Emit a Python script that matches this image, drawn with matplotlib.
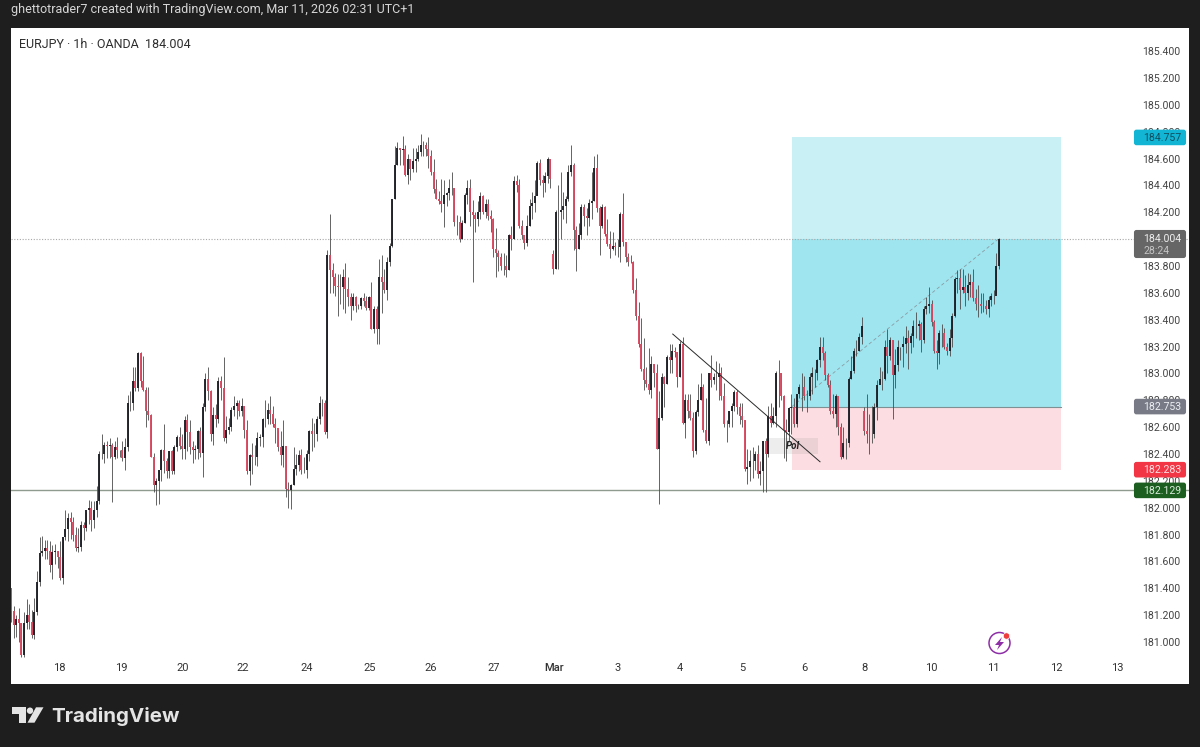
#EURJPY 1h chart with long position tool
import matplotlib
matplotlib.use('Agg')
import matplotlib.pyplot as plt
from matplotlib.patches import Rectangle, FancyBboxPatch, Polygon, Circle
import numpy as np

closes = [
    181.23,181.13,181.17,181.14,180.90,181.14,181.20,181.15,181.05,181.22,
    181.45,181.66,181.68,181.70,181.68,181.57,181.67,181.68,181.63,181.48,
    181.78,181.84,181.92,181.89,181.80,181.70,181.71,181.87,181.85,181.98,
    182.00,181.91,181.98,182.05,182.40,182.40,182.47,182.46,182.47,182.38,
    182.45,182.43,182.43,182.37,182.45,182.78,182.78,182.94,182.89,183.15,
    182.94,182.88,182.72,182.69,182.38,182.17,182.20,182.28,182.43,182.35,
    182.27,182.42,182.27,182.45,182.53,182.46,182.44,182.65,182.56,182.45,
    182.43,182.44,182.57,
    182.41,182.75,182.96,182.87,182.55,182.69,182.66,182.94,182.89,182.52,
    182.58,182.60,182.73,182.76,182.78,182.72,182.76,182.58,182.27,182.39,
    182.38,182.38,182.52,182.53,182.66,182.66,182.73,182.70,182.62,182.59,
    182.45,182.39,182.46,182.14,182.13,182.17,182.29,182.32,182.39,182.28,
    182.28,182.40,182.57,182.55,182.55,182.66,182.78,182.78,182.56,183.88,
    183.77,183.72,183.65,183.64,183.64,183.72,183.63,183.57,183.50,183.57,
    183.50,183.50,183.56,183.54,183.49,183.57,183.33,183.48,183.33,183.72,
    183.68,183.62,183.83,183.95,184.30,
    184.55,184.68,184.66,184.67,184.48,184.60,184.52,184.58,184.60,184.65,
    184.70,184.70,184.67,184.62,184.50,184.37,184.30,184.28,184.26,184.33,
    184.34,184.38,184.38,184.13,184.13,184.00,184.12,184.33,184.38,184.20,
    184.18,184.15,184.20,184.32,184.20,184.26,184.17,184.15,183.93,183.90,
    183.87,183.80,183.80,183.77,184.03,184.00,184.43,184.40,184.10,184.03,
    183.97,184.10,184.25,184.27,184.32,184.57,184.44,184.42,184.47,184.60,
    184.45,183.78,184.20,184.20,184.22,184.25,184.30,184.50,184.55,184.07,
    183.93,184.03,184.24,184.17,184.16,184.27,184.28,184.53,184.23,184.10,
    184.24,184.04,183.96,183.93,183.95,183.94,183.94,184.19,183.98,183.87,
    183.83,
    183.83,183.62,183.43,183.22,183.03,182.95,182.92,182.88,183.07,183.00,
    182.44,182.67,182.97,182.92,183.12,183.10,183.17,183.16,182.97,183.22,
    182.63,182.80,182.72,182.67,182.42,182.71,182.80,182.90,182.58,182.50,
    183.00,182.95,182.97,182.97,183.00,182.83,182.62,182.62,182.72,182.76,
    182.86,182.75,182.68,182.65,182.29,182.30,182.35,182.35,182.40,182.25,
    182.27,182.50,182.40,182.68,182.63,182.68,183.00,183.00,182.83,182.58,
    182.56,182.74,182.75,182.62,182.85,182.90,182.90,182.83,182.83,182.97,
    183.00,183.00,183.10,183.20,183.15,182.99,182.91,182.72,182.70,182.83,
    182.60,
    182.38,182.48,182.48,182.96,183.02,183.17,183.17,183.27,183.35,
    182.57,182.55,182.55,182.55,182.75,182.91,182.96,182.96,183.20,183.13,183.25,
    182.99,183.06,183.20,183.20,183.22,183.26,183.23,183.28,183.35,183.35,
    183.37,183.25,183.48,183.50,183.52,183.38,183.17,183.15,183.30,183.30,
    183.20,183.17,183.26,183.43,183.70,183.71,183.62,183.64,183.60,183.66,
    183.68,183.56,183.52,183.52,183.50,183.50,183.48,183.55,183.58,183.58,
    183.80,184.004,
]
highs = [
    181.40,181.27,181.20,181.25,181.14,181.22,181.32,181.28,181.24,181.33,
    181.53,181.78,181.79,181.76,181.76,181.75,181.72,181.73,181.68,181.75,
    181.78,181.98,181.96,181.97,181.93,181.86,181.85,181.90,181.89,181.97,
    182.06,182.05,182.05,182.16,182.42,182.55,182.49,182.50,182.52,182.48,
    182.50,182.53,182.43,182.50,182.52,182.84,182.87,183.05,183.05,183.16,
    183.16,183.13,182.90,182.90,182.70,182.41,182.22,182.28,182.44,182.62,
    182.37,182.42,182.43,182.47,182.54,182.60,182.55,182.68,182.70,182.65,
    182.50,182.47,182.58,
    182.60,182.78,183.00,183.05,182.88,182.75,182.77,182.97,182.98,183.12,
    182.68,182.67,182.75,182.83,182.80,182.80,182.82,182.76,182.65,182.40,
    182.48,182.47,182.56,182.55,182.67,182.80,182.78,182.83,182.76,182.67,
    182.58,182.57,182.65,182.46,182.19,182.18,182.45,182.40,182.43,182.44,
    182.38,182.43,182.58,182.67,182.63,182.68,182.83,182.81,182.80,183.92,
    184.19,183.82,183.75,183.74,183.74,183.78,183.82,183.72,183.60,183.60,
    183.58,183.52,183.57,183.60,183.58,183.58,183.68,183.50,183.50,183.85,
    183.88,183.78,183.87,183.97,184.30,
    184.69,184.72,184.68,184.77,184.70,184.63,184.60,184.68,184.68,184.70,
    184.78,184.73,184.72,184.76,184.66,184.60,184.45,184.36,184.45,184.44,
    184.35,184.45,184.50,184.38,184.18,184.17,184.14,184.34,184.44,184.45,
    184.29,184.20,184.28,184.35,184.33,184.30,184.30,184.22,184.16,184.08,
    183.92,183.90,183.90,183.88,184.04,184.10,184.47,184.48,184.45,184.14,
    184.00,184.18,184.30,184.35,184.44,184.58,184.60,184.48,184.50,184.61,
    184.60,183.92,184.22,184.40,184.50,184.35,184.32,184.55,184.70,184.57,
    184.10,184.12,184.26,184.26,184.23,184.30,184.50,184.62,184.63,184.25,
    184.26,184.25,184.15,184.06,184.05,183.98,184.00,184.20,184.34,183.98,
    183.90,
    183.88,183.84,183.71,183.53,183.41,183.26,183.05,183.19,183.13,183.07,
    183.07,182.87,183.00,182.98,183.14,183.22,183.22,183.20,183.15,183.24,
    183.27,182.85,182.85,182.85,182.71,182.73,182.92,183.00,182.92,182.82,
    183.00,183.14,183.00,183.09,183.08,183.05,182.93,182.65,182.72,182.78,
    182.88,182.88,182.78,182.78,182.65,182.44,182.43,182.45,182.42,182.47,
    182.35,182.50,182.52,182.76,182.78,182.75,183.02,183.10,183.00,182.84,
    182.66,182.75,182.85,182.82,182.85,182.92,183.00,182.98,182.88,183.00,
    183.05,183.03,183.11,183.27,183.27,183.17,183.00,182.95,182.85,182.85,
    182.75,
    182.63,182.60,182.52,182.97,183.13,183.19,183.25,183.30,183.42,
    182.75,182.85,182.70,182.76,182.78,182.95,183.05,183.02,183.25,183.33,183.27,
    183.25,183.18,183.25,183.20,183.28,183.35,183.32,183.30,183.40,183.46,
    183.40,183.38,183.50,183.57,183.64,183.55,183.40,183.25,183.32,183.37,
    183.34,183.23,183.33,183.45,183.72,183.77,183.78,183.78,183.73,183.75,
    183.74,183.78,183.63,183.66,183.60,183.60,183.55,183.58,183.60,183.62,
    183.90,184.01,
]
lows = [
    181.15,181.03,181.04,181.00,180.89,180.89,181.10,181.10,181.03,181.02,
    181.20,181.42,181.64,181.62,181.62,181.52,181.47,181.58,181.55,181.46,
    181.43,181.76,181.75,181.77,181.75,181.68,181.67,181.68,181.76,181.83,
    181.88,181.83,181.85,181.93,182.03,182.36,182.33,182.37,182.37,182.04,
    182.36,182.37,182.38,182.35,182.28,182.42,182.72,182.73,182.87,182.87,
    182.90,182.87,182.60,182.65,182.38,182.12,182.02,182.03,182.20,182.26,
    182.22,182.22,182.25,182.25,182.42,182.44,182.36,182.36,182.42,182.40,
    182.33,182.36,182.36,
    182.38,182.23,182.72,182.80,182.50,182.47,182.60,182.63,182.80,182.50,
    182.48,182.55,182.57,182.68,182.66,182.68,182.68,182.52,182.25,182.17,
    182.25,182.32,182.31,182.46,182.45,182.60,182.62,182.62,182.60,182.48,
    182.42,182.32,182.30,182.08,182.00,181.99,182.17,182.24,182.27,182.25,
    182.26,182.22,182.35,182.42,182.45,182.50,182.62,182.68,182.55,182.52,
    183.60,183.60,183.58,183.43,183.52,183.48,183.45,183.50,183.40,183.47,
    183.46,183.48,183.48,183.50,183.47,183.47,183.33,183.30,183.22,183.22,
    183.45,183.60,183.55,183.80,183.94,
    184.30,184.55,184.55,184.55,184.47,184.41,184.44,184.50,184.50,184.58,
    184.62,184.62,184.62,184.53,184.48,184.34,184.30,184.26,184.20,184.09,
    184.25,184.29,184.33,184.10,184.03,183.98,184.00,184.12,184.26,184.10,
    183.68,184.05,184.10,184.15,184.19,184.16,184.14,184.05,183.87,183.72,
    183.76,183.77,183.73,183.72,183.77,183.92,184.00,184.35,184.08,184.00,
    183.93,183.95,184.10,184.15,184.20,184.33,184.40,184.31,184.35,184.42,
    184.38,183.74,183.78,183.78,184.00,184.15,184.12,184.28,184.47,183.92,
    183.76,183.93,184.00,184.10,184.03,184.10,184.15,184.28,184.20,183.88,
    184.08,184.02,183.95,183.86,183.92,183.88,183.87,183.83,183.95,183.83,
    183.80,
    183.82,183.60,183.40,183.20,183.02,182.88,182.90,182.85,182.82,182.90,
    182.44,182.03,182.65,182.75,182.92,183.00,183.00,183.12,182.90,182.97,
    182.62,182.52,182.67,182.65,182.38,182.40,182.68,182.80,182.56,182.48,
    182.47,182.90,182.92,182.88,182.80,182.80,182.60,182.49,182.60,182.60,
    182.72,182.70,182.62,182.60,182.27,182.18,182.20,182.22,182.28,182.22,
    182.17,182.12,182.12,182.38,182.60,182.62,182.60,182.75,182.80,182.37,
    182.35,182.50,182.55,182.60,182.60,182.82,182.72,182.80,182.71,182.80,
    182.85,182.90,182.95,183.05,183.10,182.95,182.90,182.70,182.67,182.60,
    182.54,
    182.36,182.37,182.36,182.45,182.96,183.00,183.13,183.17,183.22,
    182.54,182.48,182.40,182.48,182.52,182.65,182.92,182.88,182.95,183.00,183.10,
    182.66,182.89,183.02,183.10,183.05,183.15,183.03,183.15,183.20,183.26,
    183.25,183.16,183.23,183.44,183.45,183.35,183.15,183.03,183.07,183.20,
    183.18,183.14,183.13,183.20,183.42,183.60,183.48,183.60,183.50,183.55,
    183.57,183.54,183.47,183.42,183.45,183.46,183.44,183.42,183.50,183.52,
    183.60,183.78,
]
first_open = 181.40
gap_opens = {209: 183.89, 329: 182.72} #weekend gaps, open is not last close

date_ticks = [18.5, 42.4, 66.3, 89.5, 114, 138.5, 162, 186, 209.4, 234, 258, 282, 306, 329, 355, 379, 403, 426.5]
date_labels = ['18','19','20','22','24','25','26','27','Mar','3','4','5','6','8','10','11','12','13']
price_ticks = [181.0 + 0.2*k for k in range(23)]

last_price = 184.004
target_price = 184.757
entry_price = 182.753
stop_price = 182.283
level_price = 182.129
pos_start, pos_end = 301.2, 404.9
trend_x, trend_y = [255.2, 312.0], [183.293, 182.342]
poi_x, poi_y = [292.0, 311.2], [182.40, 182.52]

def py(p):
    return 642 - (p - 181) * 134.3

BG = '#1e1e1e'
fig = plt.figure(figsize=(12, 7.47), dpi=100, facecolor=BG)
plt.rcParams['font.family'] = ['Roboto', 'DejaVu Sans']
#chart panel in pixels: x 11-1189, y 28-684
ax = fig.add_axes([11/1200, 1 - 684/747, 1178/1200, 656/747])
ax.set_xlim(0, 1178/2.593)
ax.set_ylim(181 + (642-684)/134.3, 181 + (642-28)/134.3)
ax.set_facecolor('white')
for s in ax.spines.values():
    s.set_visible(False)

c = np.array(closes)
h = np.array(highs)
l = np.array(lows)
o = np.concatenate([[first_open], c[:-1]])
for k, v in gap_opens.items():
    o[k] = v
idx = np.arange(len(c))
up = c >= o

#position tool
ax.add_patch(Rectangle((pos_start, last_price), pos_end-pos_start, target_price-last_price, fc='#c9f0f5', ec='none', zorder=1))
ax.add_patch(Rectangle((pos_start, entry_price), pos_end-pos_start, last_price-entry_price, fc='#9fe5ef', ec='none', zorder=1))
ax.add_patch(Rectangle((pos_start, stop_price), pos_end-pos_start, entry_price-stop_price, fc='#fcdde2', ec='none', zorder=1))
ax.plot([pos_start, pos_end], [entry_price, entry_price], color='#7f9095', lw=0.8, zorder=1.5)
ax.plot([pos_start, idx[-1]], [entry_price, last_price], color='#8a9ca3', lw=0.6, ls=(0, (4, 3)), zorder=1.5)

ax.axhline(last_price, color='#a8a8a8', lw=0.8, ls=(0, (1, 1.5)), zorder=1.6)
ax.axhline(level_price, color='#8f9b8f', lw=1.0, zorder=1.6)

ax.add_patch(Rectangle((poi_x[0], poi_y[0]), poi_x[1]-poi_x[0], poi_y[1]-poi_y[0], fc='#8a8a8a', alpha=0.15, ec='none', zorder=1.7))

#candles
ax.vlines(idx, l, h, color='#4a4a4a', lw=0.6, zorder=2)
ax.vlines(idx[up], o[up], c[up], color='#1c1f26', lw=1.35, zorder=2.1)
ax.vlines(idx[~up], o[~up], c[~up], color='#d9465f', lw=1.35, zorder=2.1)

ax.plot(trend_x, trend_y, color='#2a2a2a', lw=0.7, zorder=3)
ax.text(sum(poi_x)/2, sum(poi_y)/2, 'PoI', fontsize=7, fontweight='bold', fontstyle='italic', color='#222222', ha='center', va='center', zorder=3)

ax.set_xticks(date_ticks)
ax.set_xticklabels(date_labels)
ax.set_yticks(price_ticks)
ax.set_yticklabels(['%.3f' % p for p in price_ticks])
ax.yaxis.tick_right()
ax.tick_params(axis='x', length=0, pad=-15, labelsize=8, labelcolor='#333333')
ax.tick_params(axis='y', length=0, pad=-34, labelsize=7.6, labelcolor='#444444')
for t in ax.get_xticklabels():
    t.set_fontweight('medium' if t.get_text() == 'Mar' else 'normal')

#everything in figure pixels goes on an overlay
pix = fig.add_axes([0, 0, 1, 1], facecolor='none')
pix.set_xlim(0, 1200)
pix.set_ylim(747, 0)
pix.axis('off')

def tag(p, text, bg, fg, height=15.5):
    top = py(p) - height/2
    pix.add_patch(FancyBboxPatch((1135, top+1), 50, height-2, boxstyle='round,pad=0,rounding_size=1.5',
                                 mutation_aspect=1, fc=bg, ec=bg, lw=1.5, zorder=5))
    pix.text(1143, py(p)+0.3, text, color=fg, fontsize=7.6, va='center', ha='left', zorder=6)

tag(target_price, '184.757', '#12b5d3', '#0f4f60')
tag(entry_price, '182.753', '#787b86', '#eceef2')
tag(stop_price, '182.283', '#f23645', '#ffdfe2')
tag(level_price, '182.129', '#1b5e20', '#d8ebd9')
pix.add_patch(FancyBboxPatch((1135, 231), 50, 26, boxstyle='round,pad=0,rounding_size=1.5', fc='#666666', ec='#666666', lw=1.5, zorder=5))
pix.text(1143, 239, '184.004', color='#eeeeee', fontsize=7.6, va='center', ha='left', zorder=6)
pix.text(1143, 251, '28:24', color='#c4c4c4', fontsize=7.6, va='center', ha='left', zorder=6)

pix.text(11, 9.5, 'ghettotrader7 created with TradingView.com, Mar 11, 2026 02:31 UTC+1', color='#d6d6d6', fontsize=9.0, va='center', ha='left')
pix.text(19, 44, 'EURJPY \u00b7 1h \u00b7 OANDA  184.004', color='#2e2e2e', fontsize=9.0, va='center', ha='left')

#lightning icon
pix.add_patch(Circle((999.5, 643), 10.5, fc='none', ec='#8e2fa8', lw=1.1, zorder=5))
pix.add_patch(Polygon([[1002, 637], [995, 645], [999, 645], [997, 650], [1004, 642], [1000, 642]], fc='#8e2fa8', ec='none', zorder=5))
pix.add_patch(Circle((1006.5, 636), 3.2, fc='#ee3b3b', ec='white', lw=0.5, zorder=6))

#logo
logo_c = '#e4e4e4'
pix.add_patch(Polygon([[12.3, 707.3], [25.7, 707.3], [25.7, 722.7], [19, 722.7], [19, 713.7], [12.3, 713.7]], fc=logo_c, ec='none'))
pix.add_patch(Circle((30, 710.7), 3.2, fc=logo_c, ec='none'))
pix.add_patch(Polygon([[36, 707.3], [43.5, 707.3], [34.5, 722.7], [27.5, 722.7]], fc=logo_c, ec='none'))
pix.text(51, 716, 'TradingView', color=logo_c, fontsize=14.8, fontfamily='Inter', fontweight='bold', va='center', ha='left')

fig.savefig('out.png', dpi=100, facecolor=BG)
